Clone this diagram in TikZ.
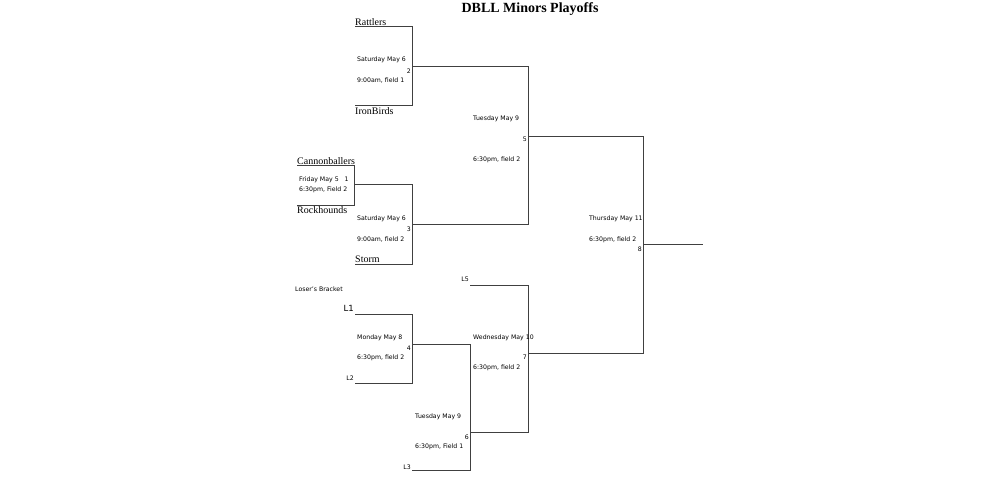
\documentclass[tikz,border=0pt]{standalone}
\usepackage{fontspec}
\setmainfont{Liberation Serif}
\setsansfont{DejaVu Sans}
\usetikzlibrary{positioning}
\tikzset{
  bline/.style={draw, line width=1pt, black!75},
  info/.style={font=\sffamily\fontsize{6.2}{7}\selectfont, inner sep=0pt, anchor=west},
  team/.style={font=\fontsize{10}{11}\selectfont, inner sep=0pt, anchor=south west},
  num/.style={font=\sffamily\fontsize{6.2}{7}\selectfont, inner sep=0pt, anchor=east},
  loser/.style={anchor=east, font=\sffamily\fontsize{6.2}{7}\selectfont, inner sep=1pt},
}
\begin{document}
\begin{tikzpicture}[x=1pt,y=-1pt]
\useasboundingbox (0,0) rectangle (995,481);
\node[font=\bfseries\fontsize{14}{15}\selectfont] (title) at (530,9) {DBLL Minors Playoffs};

% game 2
\coordinate (r) at (355,27);  \coordinate (i) at (355,106);
\draw[bline] (r) -- (412,27) -- (412,106) -- (i);
\coordinate (g2) at (412,67);
\node[team] (rattlers) at ([yshift=1]r) {Rattlers};
\node[team, anchor=north west] (ironbirds) at ([yshift=-1]i) {IronBirds};
\node[info] (d2) at (357,60) {Saturday May 6};
\node[info] (t2) at (357,81) {9:00am, field 1};
\node[num] (n2) at (411,71) {2};

% game 1
\coordinate (c) at (297,166);  \coordinate (k) at (297,205);
\draw[bline] (c) -- (354,166) -- (354,205) -- (k);
\coordinate (g1) at (354,185);
\node[team] (cannon) at ([yshift=1]c) {Cannonballers};
\node[team, anchor=north west] (rock) at ([yshift=-1]k) {Rockhounds};
\node[info] (d1) at (299,180) {Friday May 5 \ \ 1};
\node[info] (t1) at (299,190) {6:30pm, Field 2};

% game 3
\coordinate (s) at (355,264);
\draw[bline] (g1) -- (412,185) -- (412,264) -- (s);
\coordinate (g3) at (412,224);
\node[team] (storm) at ([yshift=1]s) {Storm};
\node[info] (d3) at (357,219) {Saturday May 6};
\node[info] (t3) at (357,240) {9:00am, field 2};
\node[num] (n3) at (411,229) {3};

% game 5
\draw[bline] (g2) -- (528,67) -- (528,224) -- (g3);
\coordinate (g5) at (528,137);
\node[info] (d5) at (473,119) {Tuesday May 9};
\node[info] (t5) at (473,160) {6:30pm, field 2};
\node[num] (n5) at (527,139) {5};

% loser's bracket
\node[info] (lb) at (295,289) {Loser's Bracket};
\coordinate (l1) at (355,314);  \coordinate (l2) at (355,383);
\draw[bline] (l1) -- (412,314) -- (412,383) -- (l2);
\coordinate (g4) at (412,344);
\node[loser, font=\sffamily\fontsize{8.5}{9}\selectfont] (L1) at ([yshift=6]l1) {L1};
\node[loser] (L2) at ([yshift=5]l2) {L2};
\node[info] (d4) at (357,338) {Monday May 8};
\node[info] (t4) at (357,358) {6:30pm, field 2};
\node[num] (n4) at (411,348) {4};

\coordinate (l3) at (412,470);
\draw[bline] (g4) -- (470,344) -- (470,470) -- (l3);
\coordinate (g6) at (470,432);
\node[loser] (L3) at ([yshift=3]l3) {L3};
\node[info] (d6) at (415,417) {Tuesday May 9};
\node[info] (t6) at (415,447) {6:30pm, Field 1};
\node[num] (n6) at (469,437) {6};

\coordinate (l5) at (470,285);
\draw[bline] (l5) -- (528,285) -- (528,432) -- (g6);
\coordinate (g7) at (528,353);
\node[loser] (L5) at ([yshift=6]l5) {L5};
\node[info] (d7) at (473,338) {Wednesday May 10};
\node[info] (t7) at (473,368) {6:30pm, field 2};
\node[num] (n7) at (527,357) {7};

% final
\draw[bline] (g5) -- (643,137) -- (643,353) -- (g7);
\coordinate (champ) at (703,244);
\draw[bline] (643,244) -- (champ);
\node[info] (d8) at (589,219) {Thursday May 11};
\node[info] (t8) at (589,240) {6:30pm, field 2};
\node[num] (n8) at (642,249) {8};
\end{tikzpicture}
\end{document}
